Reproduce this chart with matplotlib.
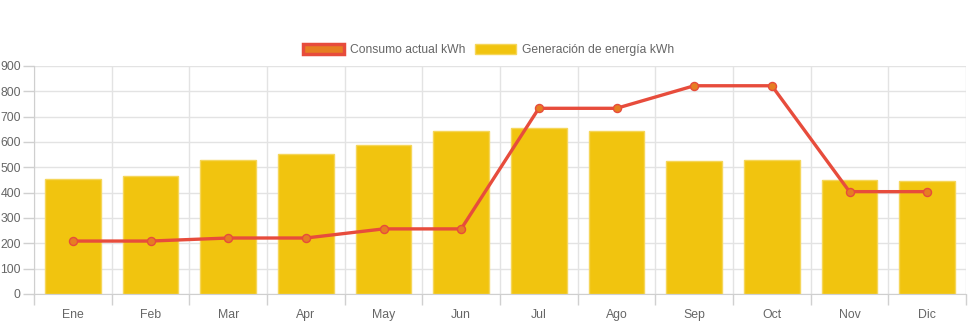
import matplotlib
matplotlib.use("Agg")
import matplotlib.pyplot as plt
from matplotlib.patches import Patch
import numpy as np

months = ["Ene", "Feb", "Mar", "Apr", "May", "Jun", "Jul", "Ago", "Sep", "Oct", "Nov", "Dic"]
generacion = [453, 465, 530, 551, 587, 643, 654, 643, 524, 530, 451, 447]
consumo = [209, 209, 221, 221, 257, 257, 733, 733, 822, 822, 404, 404]
yticks = [0, 100, 200, 300, 400, 500, 600, 700, 800, 900]

plt.rcParams['font.family'] = ['Liberation Sans', 'DejaVu Sans']

W, H = 971, 323
fig = plt.figure(figsize=(W / 100, H / 100), dpi=100)
ax = fig.add_axes([34 / W, (H - 294) / H, (966 - 34) / W, (294 - 66) / H])

x = np.arange(len(months))
ax.bar(x, generacion, width=0.72, color='#f1c40f', edgecolor='#f5d65a', linewidth=1, zorder=2)
ax.plot(x, consumo, color='#e74c3c', linewidth=2.4, zorder=3,
        marker='o', markersize=5.8, markerfacecolor='#e67e22', markeredgecolor='#e74c3c', markeredgewidth=1)

ax.set_xlim(-0.5, len(months) - 0.5)
ax.set_ylim(0, 900)
ax.set_yticks(yticks)
ax.set_yticklabels([str(v) for v in yticks])
ax.set_xticks(x)
ax.set_xticklabels(months)
ax.set_xticks(np.arange(-0.5, len(months)), minor=True)

ax.tick_params(axis='x', which='major', length=0, pad=11, labelsize=8.8, labelcolor='#666666')
ax.tick_params(axis='x', which='minor', length=8, color='#d0d0d0', width=1)
ax.tick_params(axis='y', length=8, color='#d0d0d0', width=1, pad=1.5, labelsize=8.8, labelcolor='#666666')

ax.grid(True, axis='y', which='major', color='#e3e3e3', linewidth=1, zorder=0)
ax.grid(True, axis='x', which='minor', color='#e3e3e3', linewidth=1, zorder=0)
ax.grid(False, axis='x', which='major')
ax.set_axisbelow(True)

for s in ['top', 'right']:
    ax.spines[s].set_visible(False)
ax.spines['left'].set_color('#cfcfcf')
ax.spines['bottom'].set_color('#cfcfcf')

handles = [Patch(facecolor='#e67e22', edgecolor='#e74c3c', linewidth=2.5),
           Patch(facecolor='#f1c40f', edgecolor='#f5d65a', linewidth=1)]
leg = fig.legend(handles, ["Consumo actual kWh", "Generación de energía kWh"],
                 loc='center', bbox_to_anchor=(0.503, (H - 50) / H), ncol=2, frameon=False,
                 handlelength=3.4, handleheight=0.9, handletextpad=0.45, columnspacing=0.85,
                 fontsize=8.7, labelcolor='#666666')

fig.savefig("out.png", dpi=100)
